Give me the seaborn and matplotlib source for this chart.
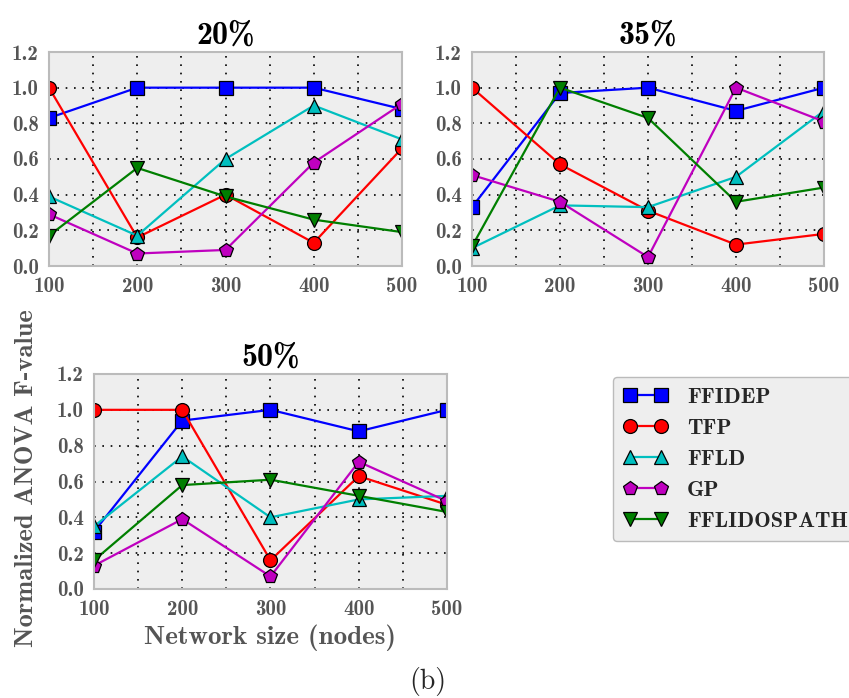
import matplotlib
matplotlib.use("Agg")
import matplotlib.pyplot as plt
import seaborn as sns
import pandas as pd
import numpy as np
from matplotlib.ticker import MultipleLocator

# Network sizes (x axis)
sizes = [100, 200, 300, 400, 500]
methods = ["FFIDEP", "TFP", "FFLD", "GP", "FFLIDOSPATH"]

# Values
ffidep_20 = [0.83, 1.0, 1.0, 1.0, 0.88]
tfp_20 = [1.0, 0.16, 0.40, 0.13, 0.66]
ffld_20 = [0.39, 0.17, 0.60, 0.90, 0.71]
gp_20 = [0.29, 0.07, 0.09, 0.58, 0.91]
ffli_20 = [0.17, 0.55, 0.39, 0.26, 0.19]

ffidep_35 = [0.33, 0.97, 1.0, 0.87, 1.0]
tfp_35 = [1.0, 0.57, 0.31, 0.12, 0.18]
ffld_35 = [0.10, 0.34, 0.33, 0.50, 0.87]
gp_35 = [0.51, 0.36, 0.05, 1.0, 0.81]
ffli_35 = [0.11, 1.0, 0.83, 0.36, 0.44]

ffidep_50 = [0.32, 0.94, 1.0, 0.88, 1.0]
tfp_50 = [1.0, 1.0, 0.16, 0.63, 0.47]
ffld_50 = [0.35, 0.74, 0.40, 0.50, 0.52]
gp_50 = [0.13, 0.39, 0.07, 0.71, 0.49]
ffli_50 = [0.16, 0.58, 0.61, 0.52, 0.43]

panels = {
    "20%": [ffidep_20, tfp_20, ffld_20, gp_20, ffli_20],
    "35%": [ffidep_35, tfp_35, ffld_35, gp_35, ffli_35],
    "50%": [ffidep_50, tfp_50, ffld_50, gp_50, ffli_50],
}

palette = {"FFIDEP": "#0000ff", "TFP": "#ff0000", "FFLD": "#00bfbf",
           "GP": "#bf00bf", "FFLIDOSPATH": "#007f00"}
markers = {"FFIDEP": "s", "TFP": "o", "FFLD": "^", "GP": "p", "FFLIDOSPATH": "v"}

sns.set_style("white")
plt.rcParams["font.family"] = ["cmb10", "DejaVu Serif"]
plt.rcParams["axes.unicode_minus"] = False

fig = plt.figure(figsize=(8.49, 6.98), dpi=100)
W, H = 849, 698
boxes = {
    "20%": (49, 52, 402, 266),
    "35%": (472, 52, 824, 266),
    "50%": (94, 374, 447, 589),
}

tick_color = "#555555"
grid_style = (0, (1, 4))
axes = {}
for name, (l, t, r, b) in boxes.items():
    ax = fig.add_axes([l / W, 1 - b / H, (r - l) / W, (b - t) / H])
    axes[name] = ax
    rows = []
    for m, vals in zip(methods, panels[name]):
        for s, v in zip(sizes, vals):
            rows.append({"size": s, "value": v, "method": m})
    df = pd.DataFrame(rows)
    sns.lineplot(data=df, x="size", y="value", hue="method", style="method",
                 hue_order=methods, style_order=methods, palette=palette,
                 markers=markers, dashes=False, markersize=10, linewidth=1.6,
                 markeredgecolor="black", markeredgewidth=0.9, legend=False,
                 ax=ax)
    ax.set_facecolor("#eeeeee")
    ax.set_xlim(100, 500)
    ax.set_ylim(0, 1.2)
    ax.xaxis.set_major_locator(MultipleLocator(100))
    ax.xaxis.set_minor_locator(MultipleLocator(50))
    ax.set_yticks(np.arange(0, 1.21, 0.2))
    ax.set_yticklabels(["%.1f" % v for v in np.arange(0, 1.21, 0.2)])
    ax.grid(True, which="both", axis="x", color="black", linestyle=grid_style, linewidth=1.2)
    ax.grid(True, which="major", axis="y", color="black", linestyle=grid_style, linewidth=1.2)
    ax.tick_params(which="both", length=0, labelsize=15, colors=tick_color)
    ax.tick_params(axis="y", pad=7.5)
    ax.tick_params(axis="x", pad=8)
    for sp in ax.spines.values():
        sp.set_color("#bbbbbb")
        sp.set_linewidth(1.5)
    ax.set_xlabel("")
    ax.set_ylabel("")
    ax.set_title(name, fontsize=23, color="black", pad=6)

axes["50%"].set_xlabel("Network size (nodes)", fontsize=19.5, color=tick_color, labelpad=4)
fig.text(27 / W, 1 - 478 / H, "Normalized ANOVA F-value", rotation=90,
         fontsize=19, color=tick_color, ha="center", va="center")

leg = fig.legend(axes["50%"].get_lines()[:5], methods, loc="upper left",
                 bbox_to_anchor=(613 / W, 1 - 377 / H), numpoints=2,
                 fontsize=16, frameon=True, facecolor="#eeeeee",
                 edgecolor="#bbbbbb", fancybox=True, handlelength=1.97,
                 handletextpad=0.87, labelspacing=0.51, borderpad=0.48,
                 borderaxespad=0)
leg.get_frame().set_alpha(1)

fig.text(428 / W, 1 - 682 / H, "(b)", fontsize=20, family=["cmr10", "DejaVu Serif"],
         ha="center", va="center")

fig.savefig("out.png", dpi=100)
